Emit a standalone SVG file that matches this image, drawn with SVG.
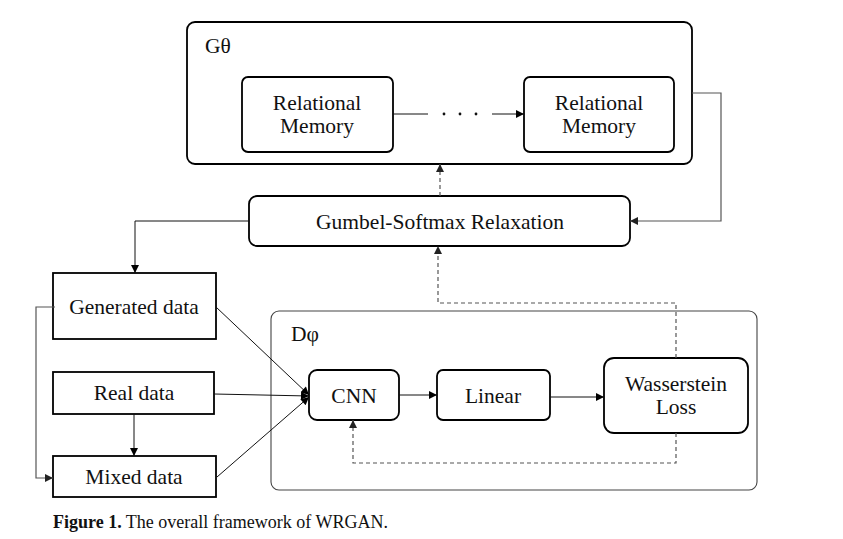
<svg xmlns="http://www.w3.org/2000/svg" width="843" height="539" viewBox="0 0 843 539">
<defs>
<marker id="ah" viewBox="0 0 10 10" refX="10" refY="5" markerWidth="9" markerHeight="8" markerUnits="userSpaceOnUse" orient="auto"><path d="M0,0 L10,5 L0,10 Z" fill="#000"/></marker>
<marker id="ahg" viewBox="0 0 10 10" refX="10" refY="5" markerWidth="9" markerHeight="8" markerUnits="userSpaceOnUse" orient="auto"><path d="M0,0 L10,5 L0,10 Z" fill="#222"/></marker>
<style>
.box{fill:#fff;stroke:#000;stroke-width:1.8}
.frame{fill:none;stroke:#444;stroke-width:1.1}
.t{font-family:"Liberation Serif","Times New Roman",serif;font-size:21.5px;fill:#111;text-anchor:middle}
.tl{font-family:"Liberation Serif","Times New Roman",serif;font-size:21.5px;fill:#111}
.c{fill:none;stroke:#111;stroke-width:1}
.g{fill:none;stroke:#555;stroke-width:1.2}
.d{fill:none;stroke:#555;stroke-width:1.2;stroke-dasharray:4,3}
.cap{font-family:"Liberation Serif","Times New Roman",serif;font-size:18px;fill:#111}
</style>
</defs>
<rect width="843" height="539" fill="#fff"/>

<g id="G">
<rect class="box" x="187" y="22" width="505" height="142" rx="8" stroke-width="2"/>
<text class="tl" x="205" y="53">Gθ</text>
</g>
<g id="D">
<rect class="frame" x="271" y="311" width="486" height="179" rx="8"/>
<text class="tl" x="291" y="341">Dφ</text>
</g>
<g id="rm1">
<rect class="box" x="242" y="77" width="151" height="75" rx="6"/>
<text class="t" x="317" y="110">Relational</text>
<text class="t" x="317" y="133">Memory</text>
</g>
<g id="rm2">
<rect class="box" x="524" y="77" width="150" height="75" rx="6"/>
<text class="t" x="599" y="110">Relational</text>
<text class="t" x="599" y="133">Memory</text>
</g>
<g id="gumbel">
<rect class="box" x="249" y="196" width="381" height="50" rx="8"/>
<text class="t" x="440" y="229">Gumbel-Softmax  Relaxation</text>
</g>
<g id="generated">
<rect class="box" x="53" y="273" width="163" height="66"/>
<text class="t" x="134" y="314">Generated data</text>
</g>
<g id="real">
<rect class="box" x="53" y="372" width="161" height="42"/>
<text class="t" x="134" y="400">Real data</text>
</g>
<g id="mixed">
<rect class="box" x="53" y="456" width="163" height="41"/>
<text class="t" x="134" y="484">Mixed data</text>
</g>
<g id="cnn">
<rect class="box" x="309" y="370" width="90" height="50" rx="8"/>
<text class="t" x="354" y="403">CNN</text>
</g>
<g id="linear">
<rect class="box" x="437" y="370" width="113" height="50" rx="6"/>
<text class="t" x="493" y="403">Linear</text>
</g>
<g id="wloss">
<rect class="box" x="604" y="358" width="144" height="75" rx="10"/>
<text class="t" x="676" y="391">Wasserstein</text>
<text class="t" x="676" y="414">Loss</text>
</g>

<g id="connectors">
<line class="c" x1="393" y1="114" x2="428" y2="114"/>
<circle cx="444" cy="114" r="1.4" fill="#111"/>
<circle cx="460" cy="114" r="1.4" fill="#111"/>
<circle cx="476" cy="114" r="1.4" fill="#111"/>
<line class="c" x1="492" y1="114" x2="524" y2="114" marker-end="url(#ah)"/>
<polyline class="g" points="692,93 721,93 721,221 630,221" marker-end="url(#ahg)"/>
<line class="d" x1="440" y1="196" x2="440" y2="164" marker-end="url(#ahg)"/>
<polyline class="c" points="249,221 135,221 135,273" marker-end="url(#ah)"/>
<polyline class="g" points="55,307 36,307 36,478 53,478" marker-end="url(#ahg)"/>
<line class="c" x1="134" y1="414" x2="134" y2="456" marker-end="url(#ah)"/>
<line class="c" x1="216" y1="307" x2="309" y2="395" marker-end="url(#ah)"/>
<line class="c" x1="214" y1="394" x2="309" y2="396" marker-end="url(#ah)"/>
<line class="c" x1="217" y1="477" x2="309" y2="397" marker-end="url(#ah)"/>
<line class="c" x1="399" y1="395" x2="437" y2="395" marker-end="url(#ah)"/>
<line class="c" x1="550" y1="397" x2="604" y2="397" marker-end="url(#ah)"/>
<polyline class="d" points="676,358 676,303 438,303 438,246" marker-end="url(#ahg)"/>
<polyline class="d" points="676,433 676,463 353,463 353,420" marker-end="url(#ahg)"/>
</g>

<text class="cap" x="53" y="528"><tspan font-weight="bold">Figure 1.</tspan> The overall framework of WRGAN.</text>
</svg>
